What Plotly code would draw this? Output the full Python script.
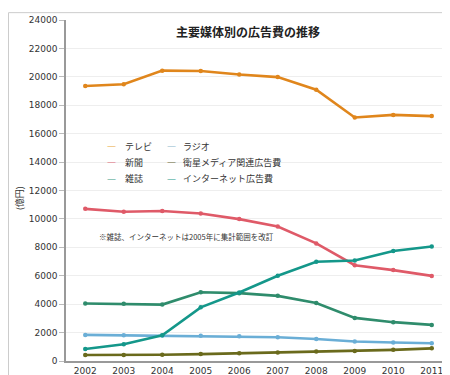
import plotly.graph_objects as go

years = ["2002", "2003", "2004", "2005", "2006", "2007", "2008", "2009", "2010", "2011"]
tv = [19351, 19480, 20436, 20411, 20161, 19981, 19092, 17139, 17321, 17237]
newspaper = [10707, 10500, 10559, 10377, 9986, 9462, 8276, 6739, 6396, 5990]
magazine = [4051, 4035, 3970, 4842, 4777, 4585, 4078, 3034, 2733, 2542]
radio = [1837, 1807, 1795, 1778, 1744, 1671, 1549, 1370, 1299, 1247]
satellite = [420, 419, 436, 487, 544, 603, 676, 709, 784, 891]
internet = [845, 1183, 1814, 3777, 4826, 6003, 6983, 7069, 7747, 8062]

names = ["テレビ", "新聞", "雑誌", "ラジオ", "衛星メディア関連広告費", "インターネット広告費"]
series = [tv, newspaper, magazine, radio, satellite, internet]
colors = ["#e0861c", "#df5a68", "#2f8c6c", "#6aaed6", "#6a6a1c", "#14978a"]
legend_colors = ["#e8a83a", "#df6a78", "#3a9a84", "#8ab8cc", "#6a6a3c", "#1a9a8a"]

W, H = 450, 375
L, R, T, B = 58, 7, 8, 19
pw, ph = W - L - R, H - T - B

def px(x):
    return (x - L) / pw

def py(y):
    return (H - B - y) / ph

fig = go.Figure()
for name, vals, c in zip(names, series, colors):
    fig.add_trace(go.Scatter(
        x=years, y=vals, name=name, mode="lines+markers",
        line=dict(color=c, width=2.6),
        marker=dict(color=c, size=4.5),
        showlegend=False,
    ))

font = "DejaVu Sans, Noto Sans CJK JP, sans-serif"
ann = []
ann.append(dict(text="<b>主要媒体別の広告費の推移</b>", x=px(240), y=py(20), xref="paper", yref="paper",
                showarrow=False, font=dict(family="Noto Sans CJK JP", size=12, color="#222"),
                xanchor="center", yanchor="middle"))
ann.append(dict(text="(億円)", x=px(11), y=py(190), xref="paper", yref="paper", textangle=-90,
                showarrow=False, font=dict(family="Noto Sans CJK JP", size=9, color="#333"),
                xanchor="center", yanchor="middle"))
ann.append(dict(text="※雑誌、インターネットは2005年に集計範囲を改訂", x=px(89), y=py(229),
                xref="paper", yref="paper", showarrow=False,
                font=dict(family="Noto Sans CJK JP", size=7.5, color="#333"),
                xanchor="left", yanchor="middle"))

# legend (two columns)
rows = [137, 153, 170]
cols = [(103, 115), (163, 173)]
for i, (name, c) in enumerate(zip(names, legend_colors)):
    col = i // 3
    row = i % 3
    dx, tx = cols[col]
    yy = rows[row]
    ann.append(dict(text="—", x=px(dx), y=py(yy), xref="paper", yref="paper", showarrow=False,
                    font=dict(family=font, size=9, color=c), xanchor="center", yanchor="middle"))
    ann.append(dict(text=name, x=px(tx), y=py(yy), xref="paper", yref="paper", showarrow=False,
                    font=dict(family="Noto Sans CJK JP", size=9, color="#333"),
                    xanchor="left", yanchor="middle"))

fig.update_layout(
    width=W, height=H,
    margin=dict(l=L, r=R, t=T, b=B),
    paper_bgcolor="white", plot_bgcolor="white",
    annotations=ann,
    font=dict(family=font, size=9, color="#333"),
    shapes=[dict(type="rect", xref="paper", yref="paper",
                 x0=px(0.5), x1=px(447.5), y0=py(0.5), y1=py(372.5),
                 line=dict(color="#cccccc", width=1), layer="below")],
)
fig.update_xaxes(
    type="category", range=[-0.5, 9.5], showgrid=False,
    showline=True, linecolor="#999", linewidth=1.5,
    ticks="", tickfont=dict(size=9, color="#333"),
)
fig.update_yaxes(
    range=[0, 24000], dtick=2000, tickformat="d", showgrid=True, gridcolor="#eeeeee",
    showline=True, linecolor="#999", linewidth=1.5,
    ticks="outside", ticklen=5, tickcolor="#bbb",
    tickfont=dict(size=9, color="#333"), zeroline=False,
)

fig.write_html("out.html")
